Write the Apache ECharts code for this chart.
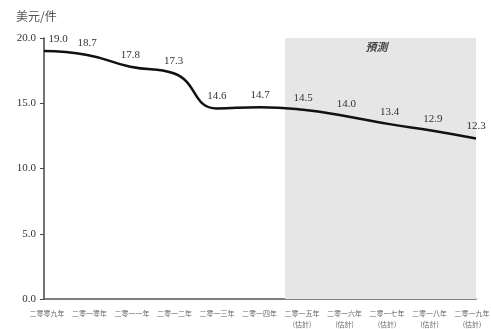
<!DOCTYPE html>
<html>
<head>
<meta charset="utf-8">
<style>
  html, body { margin: 0; padding: 0; background: #fff; }
  #chart { width: 491px; height: 329px; }
</style>
<script src="https://cdn.jsdelivr.net/npm/echarts@6/dist/echarts.min.js"></script>
</head>
<body>
<div id="chart"></div>
<script>
// Average price per unit, 2009–2019 (2015 onwards are estimates)
const categories = [
  '二零零九年', '二零一零年', '二零一一年', '二零一二年', '二零一三年', '二零一四年',
  '二零一五年\n(估計)', '二零一六年\n(估計)', '二零一七年\n(估計)', '二零一八年\n(估計)', '二零一九年\n(估計)'
];
const prices = [19.0, 18.7, 17.8, 17.3, 14.6, 14.7, 14.5, 14.0, 13.4, 12.9, 12.3];
const yTicks = [0, 5, 10, 15, 20];
const forecastStart = 5.58;   // position along the year axis where the forecast band begins
const forecastEnd = 10;
const unitLabel = '美元/件';
const forecastLabel = '預測';

const serif = '"Liberation Serif", "DejaVu Serif", serif';
const cjk = '"Noto Sans CJK TC", "Noto Sans CJK SC", sans-serif';

const chart = echarts.init(document.getElementById('chart'));
chart.setOption({
  animation: false,
  grid: [
    // plotting area
    { left: 44, right: 15, top: 38, bottom: 30, containLabel: false, outerBoundsMode: 'none' },
    // year labels sit on a slightly narrower band so the last one stays inside the frame
    { left: 47, right: 19, top: 38, bottom: 30, containLabel: false, outerBoundsMode: 'none' }
  ],
  title: {
    text: unitLabel, left: 11, top: 5,
    textStyle: { fontFamily: cjk, fontSize: 12, fontWeight: 'normal', color: '#555' }
  },
  xAxis: [
    {
      type: 'category', data: categories, boundaryGap: false, gridIndex: 0,
      axisLine: { lineStyle: { color: '#555', width: 1.5 } },
      axisTick: { show: false },
      axisLabel: { show: false },
      splitLine: { show: false }
    },
    {
      type: 'value', min: 0, max: 10, show: false, gridIndex: 0
    },
    {
      type: 'category', data: categories, boundaryGap: false, gridIndex: 1,
      axisLine: { show: false },
      axisTick: { show: false },
      axisLabel: {
        interval: 0, margin: 9, color: '#666', fontFamily: cjk, fontSize: 7,
        lineHeight: 11, hideOverlap: false
      },
      splitLine: { show: false }
    }
  ],
  yAxis: [
    {
      type: 'value', min: yTicks[0], max: yTicks[yTicks.length - 1], interval: 5, gridIndex: 0,
      axisLine: { show: true, lineStyle: { color: '#444', width: 1.5 } },
      axisTick: { show: true, length: 4, lineStyle: { color: '#444' } },
      axisLabel: {
        margin: 8, color: '#333', fontFamily: serif, fontSize: 11,
        formatter: v => v.toFixed(1)
      },
      splitLine: { show: false }
    },
    { type: 'value', gridIndex: 1, show: false }
  ],
  series: [
    {
      type: 'line', xAxisIndex: 1, yAxisIndex: 0, data: [], silent: true,
      markArea: {
        silent: true,
        itemStyle: { color: '#e6e6e6' },
        label: {
          show: true, position: 'insideTop', distance: 3,
          fontFamily: cjk, fontSize: 11, fontStyle: 'italic', fontWeight: 'bold', color: '#444',
          offset: [-4, 0]
        },
        data: [[
          { name: forecastLabel, coord: [forecastStart, yTicks[yTicks.length - 1]] },
          { coord: [forecastEnd, yTicks[0]] }
        ]]
      },
      z: 1
    },
    {
      type: 'line', xAxisIndex: 0, yAxisIndex: 0, data: prices, smooth: 0.5, z: 5,
      symbol: 'circle', symbolSize: 1, showSymbol: true,
      itemStyle: { color: 'rgba(0,0,0,0)' },
      lineStyle: { color: '#111', width: 2.5 },
      label: {
        show: true, position: 'top', distance: 6,
        fontFamily: serif, fontSize: 11, color: '#333',
        formatter: p => p.value.toFixed(1)
      },
      labelLayout: p => p.dataIndex === 0 ? { dx: 14 } : {}
    }
  ]
});
</script>
</body>
</html>
